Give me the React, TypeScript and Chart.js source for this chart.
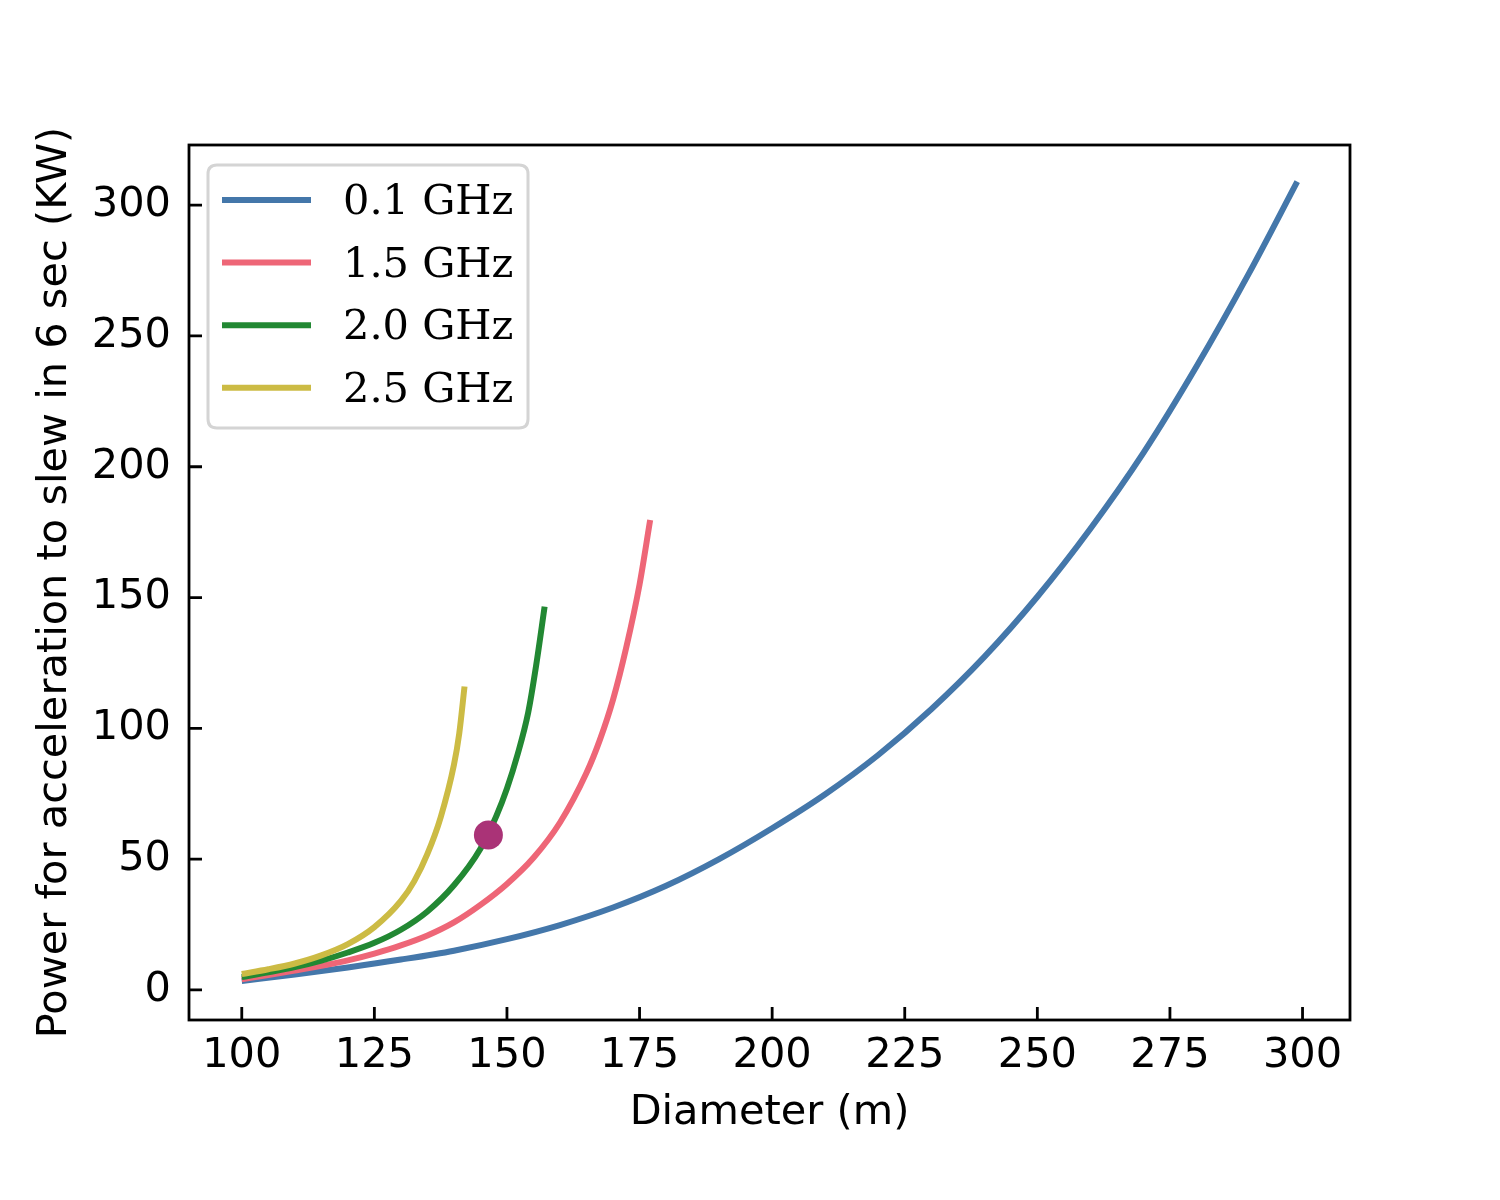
// @ts-nocheck
import {useEffect, useRef} from "react";
import {Chart, registerables} from "chart.js";

Chart.register(...registerables);

// series labels and colours
const seriesNames = ["0.1 GHz", "1.5 GHz", "2.0 GHz", "2.5 GHz"];
const seriesColors = ["#4477AA", "#EE6677", "#228833", "#CCBB44"];

// 0.1 GHz
const diam01 = [100, 110, 120, 130, 140, 150, 160, 170, 180, 190, 200, 210, 220, 230, 240, 250, 260, 270, 280, 290, 299];
const power01 = [3.4, 5.9, 8.6, 11.6, 15.0, 19.4, 24.8, 31.5, 39.8, 50, 61.8, 74.8, 89.8, 107.3, 127.3, 150.3, 176.3, 205.3, 238.3, 274.3, 309];

// 1.5 GHz
const diam15 = [100, 105, 110, 115, 120, 125, 130, 135, 140, 145, 150, 155, 160, 165, 167.5, 170, 172.5, 175, 177];
const power15 = [4.1, 5.7, 7.4, 9.2, 11.3, 13.9, 17.0, 20.8, 25.8, 32.5, 40.5, 50.5, 64, 83, 95.5, 111, 131, 155, 179.6];

// 2.0 GHz
const diam20 = [100, 105, 110, 115, 120, 125, 130, 135, 140, 145, 148, 150, 152, 154, 155.5, 157.1];
const power20 = [4.9, 6.7, 8.7, 11.2, 14.3, 18, 23, 30, 40, 54, 66.5, 77, 90, 106, 124, 146.5];

// 2.5 GHz
const diam25 = [100, 105, 110, 115, 120, 125, 130, 132.5, 135, 137.5, 140, 141, 142];
const power25 = [6.1, 7.9, 10.1, 13.2, 17.5, 24, 34, 41.5, 52, 66, 86, 98, 116];

// highlighted point
const markDiam = [146.5];
const markPower = [59.2];
const markColor = "#AA3377";

// axes
const xTicks = [100, 125, 150, 175, 200, 225, 250, 275, 300];
const yTicks = [0, 50, 100, 150, 200, 250, 300];
const xTitle = "Diameter (m)";
const yTitle = "Power for acceleration to slew in 6 sec (KW)";

const toPoints = (xs, ys) => xs.map((x, i) => ({x, y: ys[i]}));

const sansFont = {family: "'DejaVu Sans', sans-serif", size: 41.5};

const framePlugin = {
    id: "frame",
    afterDraw(chart) {
        const ctx = chart.ctx;
        const a = chart.chartArea;
        const xs = chart.scales.x;
        const ys = chart.scales.y;
        ctx.save();
        ctx.strokeStyle = "#000";
        ctx.lineWidth = 2.8;
        ctx.beginPath();
        xTicks.forEach(v => {
            const px = xs.getPixelForValue(v);
            ctx.moveTo(px, a.bottom);
            ctx.lineTo(px, a.bottom - 13);
        });
        yTicks.forEach(v => {
            const py = ys.getPixelForValue(v);
            ctx.moveTo(a.left, py);
            ctx.lineTo(a.left + 13, py);
        });
        ctx.stroke();
        ctx.strokeRect(a.left, a.top, a.right - a.left, a.bottom - a.top);
        ctx.restore();
    },
};

const legendPlugin = {
    id: "mplLegend",
    afterDatasetsDraw(chart) {
        const ctx = chart.ctx;
        const a = chart.chartArea;
        const x0 = a.left + 19;
        const y0 = a.top + 20;
        const w = 320;
        const h = 263;
        const r = 9;
        ctx.save();
        ctx.beginPath();
        ctx.moveTo(x0 + r, y0);
        ctx.lineTo(x0 + w - r, y0);
        ctx.quadraticCurveTo(x0 + w, y0, x0 + w, y0 + r);
        ctx.lineTo(x0 + w, y0 + h - r);
        ctx.quadraticCurveTo(x0 + w, y0 + h, x0 + w - r, y0 + h);
        ctx.lineTo(x0 + r, y0 + h);
        ctx.quadraticCurveTo(x0, y0 + h, x0, y0 + h - r);
        ctx.lineTo(x0, y0 + r);
        ctx.quadraticCurveTo(x0, y0, x0 + r, y0);
        ctx.closePath();
        ctx.fillStyle = "rgba(255,255,255,0.8)";
        ctx.fill();
        ctx.strokeStyle = "#d4d4d4";
        ctx.lineWidth = 3;
        ctx.stroke();

        ctx.font = "41.5px 'DejaVu Serif', serif";
        ctx.textBaseline = "alphabetic";
        ctx.textAlign = "left";
        seriesNames.forEach((name, i) => {
            const cy = y0 + 35 + i * 62.6;
            ctx.strokeStyle = seriesColors[i];
            ctx.lineWidth = 6;
            ctx.beginPath();
            ctx.moveTo(x0 + 14, cy);
            ctx.lineTo(x0 + 103, cy);
            ctx.stroke();
            ctx.fillStyle = "#000";
            ctx.fillText(name, x0 + 135, cy + 14);
        });
        ctx.restore();
    },
};

export default function App() {
    const chartRef = useRef(null);
    const chartInstance = useRef(null);

    useEffect(() => {
        const ctx = chartRef.current?.getContext("2d");
        const lines = [
            [diam01, power01],
            [diam15, power15],
            [diam20, power20],
            [diam25, power25],
        ];
        const datasets = lines.map(([xs, ys], i) => ({
            label: seriesNames[i],
            data: toPoints(xs, ys),
            showLine: true,
            borderColor: seriesColors[i],
            backgroundColor: seriesColors[i],
            borderWidth: 6,
            pointRadius: 0,
            tension: 0.4,
            cubicInterpolationMode: "monotone",
            order: 4 - i,
        }));
        datasets.push({
            label: "mark",
            data: toPoints(markDiam, markPower),
            showLine: false,
            pointRadius: 14.5,
            pointBackgroundColor: markColor,
            pointBorderWidth: 0,
            order: 0,
        });

        chartInstance.current = new Chart(ctx, {
            type: "scatter",
            data: {datasets},
            options: {
                animation: false,
                responsive: false,
                devicePixelRatio: 1,
                layout: {padding: {left: 0, top: 145, right: 150, bottom: 0}},
                plugins: {
                    legend: {display: false},
                    tooltip: {enabled: false},
                },
                scales: {
                    x: {
                        type: "linear",
                        min: 90.05,
                        max: 308.95,
                        afterFit: (s) => { s.height = 180; },
                        afterBuildTicks: (s) => { s.ticks = xTicks.map(v => ({value: v})); },
                        grid: {display: false, drawTicks: false},
                        border: {display: false},
                        ticks: {color: "#000", font: sansFont, padding: 11, maxRotation: 0, autoSkip: false},
                        title: {display: true, text: xTitle, color: "#000", font: sansFont, padding: {top: 0, bottom: 62}},
                    },
                    y: {
                        type: "linear",
                        min: -11.5,
                        max: 323,
                        afterFit: (s) => { s.width = 189; },
                        afterBuildTicks: (s) => { s.ticks = yTicks.map(v => ({value: v})); },
                        grid: {display: false, drawTicks: false},
                        border: {display: false},
                        ticks: {color: "#000", font: sansFont, padding: 18, autoSkip: false},
                        title: {display: true, text: yTitle, color: "#000", font: sansFont, padding: {top: 30, bottom: 0}},
                    },
                },
            },
            plugins: [legendPlugin, framePlugin],
        });

        return () => {
            chartInstance.current.destroy();
        };
    }, []);

    return (
        <div style={{position: "absolute", left: 0, top: 0, width: 1500, height: 1200, background: "#fff"}}>
            <canvas ref={chartRef} width={1500} height={1200}/>
        </div>
    );
}
